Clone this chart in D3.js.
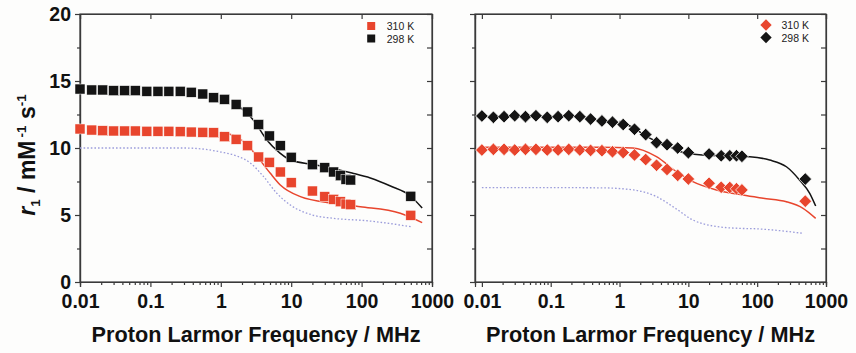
<!DOCTYPE html>
<html>
<head>
<meta charset="utf-8">
<script src="https://cdn.jsdelivr.net/npm/d3@7"></script>
<style>
  body { margin: 0; background: #fdfdfc; }
  svg { display: block; }
</style>
</head>
<body>
<svg id="chart" width="856" height="353"></svg>
<script>
// frequencies (MHz)
var freqLeft = [0.01, 0.0147, 0.021, 0.03, 0.043, 0.061, 0.089, 0.128, 0.183, 0.265, 0.38, 0.555, 0.79, 1.13, 1.65, 2.4, 3.45, 4.9, 7, 10, 20, 30, 40, 50, 60, 70, 500];
var freqRight = [0.01, 0.0147, 0.021, 0.03, 0.043, 0.061, 0.089, 0.128, 0.183, 0.265, 0.38, 0.555, 0.79, 1.13, 1.65, 2.4, 3.45, 4.9, 7, 10, 20, 30, 40, 50, 60, 500];

// r1 (mM-1 s-1), left panel (squares)
var left310 = [11.42, 11.34, 11.29, 11.27, 11.27, 11.27, 11.25, 11.25, 11.25, 11.22, 11.19, 11.17, 11.14, 10.84, 10.65, 10.17, 9.33, 8.93, 8.21, 7.41, 6.79, 6.37, 6.17, 5.99, 5.82, 5.77, 4.98];
var left298 = [14.40, 14.33, 14.33, 14.28, 14.28, 14.28, 14.23, 14.23, 14.23, 14.23, 14.16, 14.03, 13.75, 13.63, 13.25, 12.69, 11.75, 10.9, 10.17, 9.31, 8.75, 8.53, 8.21, 7.93, 7.66, 7.61, 6.4];

// r1, right panel (diamonds)
var right310 = [9.85, 9.9, 9.9, 9.85, 9.9, 9.9, 9.85, 9.85, 9.9, 9.85, 9.82, 9.8, 9.72, 9.66, 9.48, 9.14, 8.71, 8.4, 7.96, 7.69, 7.37, 7.07, 7.05, 6.96, 6.87, 6.03];
var right298 = [12.39, 12.29, 12.34, 12.41, 12.34, 12.41, 12.29, 12.34, 12.41, 12.34, 12.16, 12.02, 11.93, 11.75, 11.4, 11.0, 10.4, 10.25, 10.0, 9.65, 9.55, 9.42, 9.42, 9.42, 9.38, 7.68];

// fitted curves
var fitLeft298F = [1.65, 2.9, 4.5, 7, 9.7, 21.6, 73, 133, 257, 494, 725];
var fitLeft298V = [13.28, 12.09, 10.6, 9.6, 9.1, 8.75, 8.13, 7.76, 7.16, 6.42, 5.52];
var fitLeft310F = [1, 1.65, 2.4, 3.44, 5.05, 7, 13.5, 40, 96, 354, 725];
var fitLeft310V = [11.15, 10.85, 10.2, 9.23, 8.11, 7.24, 6.37, 5.87, 5.62, 5.13, 4.43];
var dotLeftF = [0.01, 0.1, 0.3, 0.6, 1, 1.7, 2.6, 4, 6.3, 9.7, 20, 40, 120, 500];
var dotLeftV = [10.0, 10.0, 10.0, 9.9, 9.7, 9.4, 8.9, 7.9, 6.6, 5.75, 5.0, 4.75, 4.57, 4.13];

var fitRight298F = [1, 1.6, 2.4, 3.4, 4.8, 9.3, 20, 40, 78, 152, 266, 415, 580, 708];
var fitRight298V = [12.0, 11.5, 10.9, 10.5, 10.2, 9.6, 9.45, 9.4, 9.35, 9.1, 8.6, 7.6, 6.62, 5.67];
var fitRight310F = [0.01, 0.52, 1.56, 3.44, 6.7, 11.6, 25.6, 62, 122, 266, 464, 708];
var fitRight310V = [10.05, 10.05, 10.0, 9.35, 8.23, 7.49, 6.87, 6.49, 6.25, 5.99, 5.5, 4.75];
var dotRightF = [0.01, 0.52, 1.6, 3.44, 6.7, 11.6, 23, 57, 87, 464];
var dotRightV = [7.05, 7.03, 6.87, 6.37, 5.45, 4.63, 4.18, 4.0, 3.98, 3.63];

var xTicks = [0.01, 0.1, 1, 10, 100, 1000];
var xTickLabels = ["0.01", "0.1", "1", "10", "100", "1000"];
var yTicks = [0, 5, 10, 15, 20];
var yMinor = [2.5, 7.5, 12.5, 17.5];
var legendLabels = ["310 K", "298 K"];

var colorRed = "#e8452d";
var colorBlack = "#141414";
var colorDot = "#9c9ddb";
var axisColor = "#3a3a3a";
var fontFamily = "'Liberation Sans', Arial, sans-serif";

var svg = d3.select("#chart");

function minorTicks(domain) {
  var out = [];
  for (var e = -2; e < 3; e++) {
    for (var m = 2; m <= 9; m++) {
      var v = m * Math.pow(10, e);
      if (v >= domain[0] && v <= domain[1]) out.push(v);
    }
  }
  return out;
}

function drawPanel(params) {
  var x = params.x;
  var y = params.y;
  var x0 = x.range()[0], x1 = x.range()[1];
  var y0 = y.range()[0], y1 = y.range()[1];
  var g = svg.append("g");

  // frame
  g.append("rect")
    .attr("x", x0).attr("y", y1)
    .attr("width", x1 - x0).attr("height", y0 - y1)
    .attr("fill", "none")
    .attr("stroke", axisColor)
    .attr("stroke-width", 1.2);

  var minors = minorTicks([0.01, 1000]);

  // bottom axis (outward)
  var bottom = g.append("g").attr("transform", "translate(0," + y0 + ")");
  bottom.call(d3.axisBottom(x).tickValues(xTicks).tickSize(5).tickFormat(function (d, i) { return xTickLabels[i]; }));
  bottom.append("g").call(d3.axisBottom(x).tickValues(minors).tickSize(3).tickFormat(""));

  // top axis (inward)
  g.append("g").attr("transform", "translate(0," + y1 + ")")
    .call(d3.axisBottom(x).tickValues(xTicks).tickSize(5).tickFormat(""));

  // left axis (outward)
  var left = g.append("g").attr("transform", "translate(" + x0 + ",0)");
  left.call(d3.axisLeft(y).tickValues(yTicks).tickSize(5).tickPadding(4).tickFormat(params.showY ? d3.format("d") : ""));
  left.append("g").call(d3.axisLeft(y).tickValues(yMinor).tickSize(3).tickFormat(""));

  // right axis (inward)
  g.append("g").attr("transform", "translate(" + x1 + ",0)")
    .call(d3.axisLeft(y).tickValues(yTicks.concat(yMinor)).tickSize(5).tickFormat(""));

  g.selectAll(".domain").attr("stroke", axisColor).attr("stroke-width", 1.2);
  g.selectAll(".tick line").attr("stroke", axisColor).attr("stroke-width", 1.2);
  g.selectAll(".tick text")
    .attr("fill", "#111")
    .style("font-family", fontFamily)
    .style("font-weight", "bold")
    .style("font-size", "19.5px");
  bottom.selectAll(".tick text").attr("dy", "0").attr("y", 25.5);

  // curves
  var line = d3.line()
    .x(function (d) { return x(d[0]); })
    .y(function (d) { return y(d[1]); })
    .curve(d3.curveMonotoneX);

  g.append("path")
    .datum(d3.zip(params.dotF, params.dotV))
    .attr("d", line)
    .attr("fill", "none")
    .attr("stroke", colorDot)
    .attr("stroke-width", 1.3)
    .attr("stroke-dasharray", "1.6,2");

  g.append("path")
    .datum(d3.zip(params.fit310F, params.fit310V))
    .attr("d", line)
    .attr("fill", "none")
    .attr("stroke", colorRed)
    .attr("stroke-width", 1.5);

  g.append("path")
    .datum(d3.zip(params.fit298F, params.fit298V))
    .attr("d", line)
    .attr("fill", "none")
    .attr("stroke", colorBlack)
    .attr("stroke-width", 1.5);

  // markers
  var series = [
    { values: params.v310, color: colorRed },
    { values: params.v298, color: colorBlack }
  ];

  series.forEach(function (s) {
    var pts = d3.zip(params.freq, s.values);
    if (params.marker === "square") {
      g.selectAll(null)
        .data(pts)
        .enter()
        .append("rect")
        .attr("x", function (d) { return x(d[0]) - 5; })
        .attr("y", function (d) { return y(d[1]) - 5; })
        .attr("width", 10)
        .attr("height", 10)
        .attr("fill", s.color)
        .attr("stroke", "#fdfdfc")
        .attr("stroke-width", 0.5);
    } else {
      g.selectAll(null)
        .data(pts)
        .enter()
        .append("path")
        .attr("d", d3.symbol().type(d3.symbolSquare).size(80))
        .attr("transform", function (d) { return "translate(" + x(d[0]) + "," + y(d[1]) + ") rotate(45)"; })
        .attr("fill", s.color)
        .attr("stroke", "#fdfdfc")
        .attr("stroke-width", 0.7);
    }
  });

  // legend
  var lg = g.append("g").attr("transform", "translate(" + params.legendX + "," + params.legendY + ")");
  [colorRed, colorBlack].forEach(function (c, i) {
    var cy = i * 12.5;
    if (params.marker === "square") {
      lg.append("rect")
        .attr("x", -4).attr("y", cy - 4)
        .attr("width", 8).attr("height", 8)
        .attr("fill", c);
    } else {
      lg.append("path")
        .attr("d", d3.symbol().type(d3.symbolSquare).size(64))
        .attr("transform", "translate(0," + cy + ") rotate(45)")
        .attr("fill", c);
    }
    lg.append("text")
      .attr("x", params.legendText)
      .attr("y", cy + 4)
      .attr("fill", "#222")
      .style("font-family", fontFamily)
      .style("font-size", "10.5px")
      .text(legendLabels[i]);
  });

  // x title
  g.append("text")
    .attr("x", (x0 + x1) / 2)
    .attr("y", 342)
    .attr("text-anchor", "middle")
    .attr("fill", "#111")
    .style("font-family", fontFamily)
    .style("font-weight", "bold")
    .style("font-size", "21.7px")
    .text("Proton Larmor Frequency / MHz");
}

var yScale = d3.scaleLinear().domain([0, 20]).range([282, 14]);

drawPanel({
  x: d3.scaleLog().domain([0.01, 1000]).range([80, 432]),
  y: yScale,
  showY: true,
  marker: "square",
  freq: freqLeft, v310: left310, v298: left298,
  fit298F: fitLeft298F, fit298V: fitLeft298V,
  fit310F: fitLeft310F, fit310V: fitLeft310V,
  dotF: dotLeftF, dotV: dotLeftV,
  legendX: 371.2, legendY: 26, legendText: 15.5
});

drawPanel({
  x: d3.scaleLog().domain([Math.pow(10, -2.1), 1000]).range([475, 826]),
  y: yScale,
  showY: false,
  marker: "diamond",
  freq: freqRight, v310: right310, v298: right298,
  fit298F: fitRight298F, fit298V: fitRight298V,
  fit310F: fitRight310F, fit310V: fitRight310V,
  dotF: dotRightF, dotV: dotRightV,
  legendX: 766, legendY: 25, legendText: 15.5
});

// y title
var yt = svg.append("text")
  .attr("transform", "translate(35,155) rotate(-90)")
  .attr("text-anchor", "middle")
  .attr("fill", "#111")
  .style("font-family", fontFamily)
  .style("font-weight", "bold")
  .style("font-size", "23px");
yt.append("tspan").style("font-style", "italic").text("r");
yt.append("tspan").attr("dy", 5).style("font-size", "13.5px").text("1");
yt.append("tspan").attr("dy", -5).text(" / mM");
yt.append("tspan").attr("dy", -9.5).attr("dx", 3).style("font-size", "13.5px").text("-1");
yt.append("tspan").attr("dy", 9.5).text(" s");
yt.append("tspan").attr("dy", -9.5).style("font-size", "13.5px").text("-1");
</script>
</body>
</html>
